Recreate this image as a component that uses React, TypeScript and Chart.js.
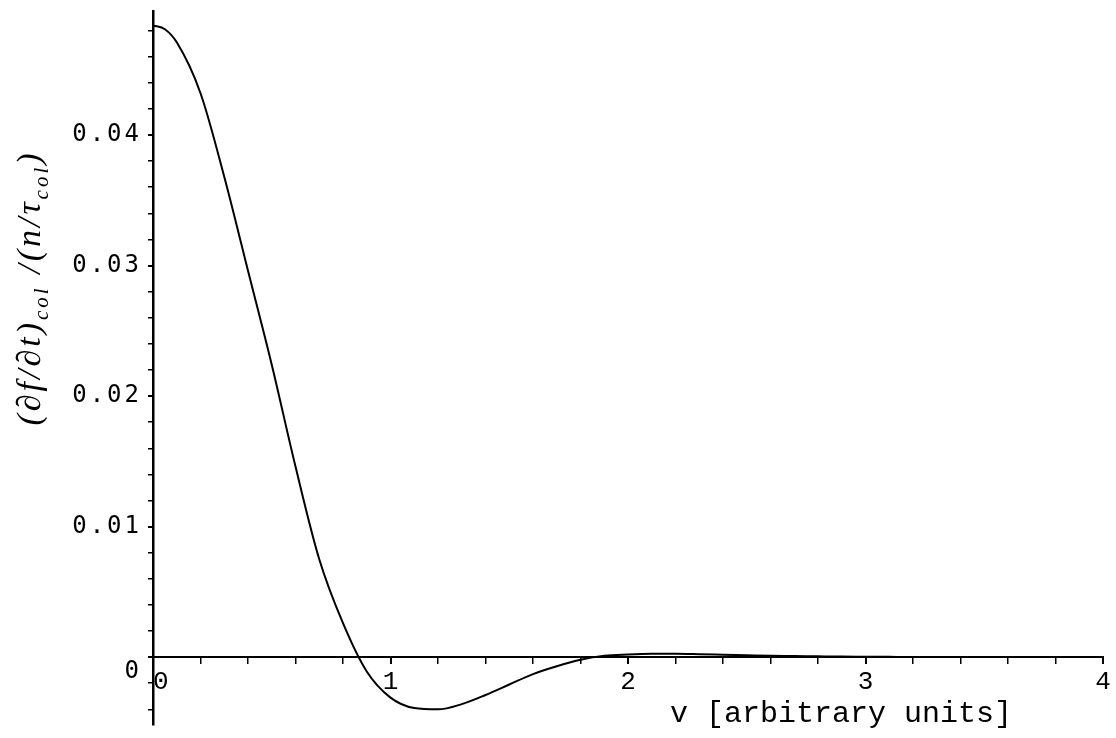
import { useEffect, useRef } from "react";
import { Chart, registerables } from "chart.js";

Chart.register(...registerables);

// ---- data ----
const velocity = [
  0, 0.05, 0.1, 0.2, 0.3, 0.4, 0.5, 0.6, 0.7, 0.8, 0.9,
  1.0, 1.1, 1.2, 1.3, 1.4, 1.5, 1.6, 1.7, 1.8, 1.9,
  2.0, 2.1, 2.2, 2.3, 2.4, 2.5, 2.6, 2.7, 2.8, 2.9,
  3.0, 3.1, 3.2, 3.3, 3.4, 3.5, 3.6, 3.7, 3.8, 3.9, 4.0,
];
const collisionTerm = [
  0.0484, 0.0481, 0.0471, 0.0432, 0.0368, 0.0296, 0.0224, 0.0146, 0.0075, 0.0026, -0.0011,
  -0.0031, -0.0039, -0.0040, -0.0036, -0.0029, -0.0021, -0.0013, -0.0007, -0.0002, 0.0001,
  0.0002, 0.00025, 0.00025, 0.00022, 0.00018, 0.00014, 0.0001, 0.00008, 0.00006, 0.00004,
  0.00003, 0.00002, 0.00001, 0.00001, 0, 0, 0, 0, 0, 0, 0,
];

const xMajorTicks = [0, 1, 2, 3, 4];
const xTickLabels = [" 0", "1", "2", "3", "4"];
const xMinorTicks = [
  0.2, 0.4, 0.6, 0.8, 1.2, 1.4, 1.6, 1.8, 2.2, 2.4, 2.6, 2.8, 3.2, 3.4, 3.6, 3.8,
];
const yMajorTicks = [0, 0.01, 0.02, 0.03, 0.04];
const yTickLabels: (string | string[])[] = [["", "0"], "0.01", "0.02", "0.03", "0.04"];
const yMinorTicks = [
  -0.004, -0.002, 0.002, 0.004, 0.006, 0.008, 0.012, 0.014, 0.016, 0.018,
  0.022, 0.024, 0.026, 0.028, 0.032, 0.034, 0.036, 0.038, 0.042, 0.044, 0.046, 0.048,
];

const xAxisTitle = "v [arbitrary units]";
// y title pieces: [text, isSubscript]
const yAxisTitleParts: [string, boolean][] = [
  ["(\u2202f/\u2202t)", false],
  ["col", true],
  [" /(n/\u03c4", false],
  ["col", true],
  [")", false],
];

const X_MIN = 0;
const X_MAX = 4;
const Y_MIN = -0.0052;
const Y_MAX = 0.0495;

const near = (a: number, b: number) => Math.abs(a - b) < 1e-9;
const majorIndex = (arr: number[], v: number) => arr.findIndex((m) => near(m, v));

const titlePlugin = {
  id: "customTitles",
  afterDatasetsDraw(chart: any) {
    // spacing for the y tick labels layer (drawn after datasets)
    chart.ctx.letterSpacing = "3px";
  },
  afterDraw(chart: any) {
    const ctx = chart.ctx as CanvasRenderingContext2D;
    const area = chart.chartArea;
    ctx.save();
    (ctx as any).letterSpacing = "0px";
    ctx.fillStyle = "#000";

    // x axis title
    ctx.font = "30px 'Liberation Mono'";
    ctx.textAlign = "right";
    ctx.textBaseline = "alphabetic";
    ctx.fillText(xAxisTitle, area.right - 91, area.bottom - 3);

    // y axis title (rotated, with subscripts)
    const mainFont = "italic 34px 'Liberation Serif'";
    const subFont = "italic 21px 'Liberation Serif'";
    (ctx as any).letterSpacing = "3px";
    let total = 0;
    const widths: number[] = [];
    for (const [t, sub] of yAxisTitleParts) {
      ctx.font = sub ? subFont : mainFont;
      const w = ctx.measureText(t).width;
      widths.push(w);
      total += w;
    }
    ctx.translate(area.left - 113, 288);
    ctx.rotate(-Math.PI / 2);
    ctx.textAlign = "left";
    let x = -total / 2;
    yAxisTitleParts.forEach(([t, sub], i) => {
      ctx.font = sub ? subFont : mainFont;
      ctx.fillText(t, x, sub ? 8 : 0);
      x += widths[i];
    });
    ctx.restore();
    (ctx as any).letterSpacing = "0px";
  },
};

export default function App() {
  const canvasRef = useRef<HTMLCanvasElement | null>(null);

  useEffect(() => {
    document.body.style.margin = "0";
    document.body.style.background = "#fff";
    const canvas = canvasRef.current;
    if (!canvas) return;

    const points = velocity.map((v, i) => ({ x: v, y: collisionTerm[i] }));

    const chart = new Chart(canvas, {
      type: "scatter",
      data: {
        datasets: [
          {
            label: "collision term",
            data: points,
            showLine: true,
            borderColor: "#000",
            borderWidth: 2,
            pointRadius: 0,
            cubicInterpolationMode: "monotone",
            fill: false,
          },
        ],
      },
      options: {
        animation: false,
        responsive: false,
        devicePixelRatio: 1,
        layout: { padding: { top: 11, right: 13, bottom: 13, left: 0 } },
        plugins: {
          legend: { display: false },
          tooltip: { enabled: false },
          title: { display: false },
        },
        scales: {
          x: {
            type: "linear",
            min: X_MIN,
            max: X_MAX,
            position: { y: 0 } as any,
            afterBuildTicks: (s: any) => {
              s.ticks = [...xMajorTicks, ...xMinorTicks]
                .sort((a, b) => a - b)
                .map((v) => ({ value: v }));
            },
            afterFit: (s: any) => {
              s.height = 0;
              s.paddingLeft = 0;
              s.paddingRight = 0;
            },
            ticks: {
              autoSkip: false,
              maxRotation: 0,
              color: "#000",
              padding: 3,
              font: { family: "'Liberation Mono'", size: 26 },
              callback: (v: any) => {
                const i = majorIndex(xMajorTicks, Number(v));
                return i >= 0 ? xTickLabels[i] : "";
              },
            },
            grid: {
              drawOnChartArea: false,
              drawTicks: true,
              tickLength: 6,
              color: "#000",
              lineWidth: (c: any) => (majorIndex(xMajorTicks, c.tick?.value) >= 0 ? 2 : 1.5),
            },
            border: { color: "#000", width: 2 },
          },
          y: {
            type: "linear",
            min: Y_MIN,
            max: Y_MAX,
            position: "left",
            afterBuildTicks: (s: any) => {
              s.ticks = [...yMajorTicks, ...yMinorTicks]
                .sort((a, b) => a - b)
                .map((v) => ({ value: v }));
            },
            afterFit: (s: any) => {
              s.width = 153;
              s.paddingTop = 0;
              s.paddingBottom = 0;
            },
            ticks: {
              z: 1,
              autoSkip: false,
              color: "#000",
              padding: 6,
              font: { family: "'DejaVu Sans Mono'", size: 24 },
              callback: (v: any) => {
                const i = majorIndex(yMajorTicks, Number(v));
                return i >= 0 ? yTickLabels[i] : "";
              },
            },
            grid: {
              drawOnChartArea: false,
              drawTicks: true,
              tickLength: 5,
              color: "#000",
              lineWidth: (c: any) => (majorIndex(yMajorTicks, c.tick?.value) >= 0 ? 2 : 1.5),
            },
            border: { color: "#000", width: 2.5 },
          },
        },
      },
      plugins: [titlePlugin],
    } as any);

    return () => {
      chart.destroy();
    };
  }, []);

  return (
    <canvas
      ref={canvasRef}
      width={1116}
      height={738}
      style={{ display: "block", width: 1116, height: 738, background: "#fff" }}
    />
  );
}
